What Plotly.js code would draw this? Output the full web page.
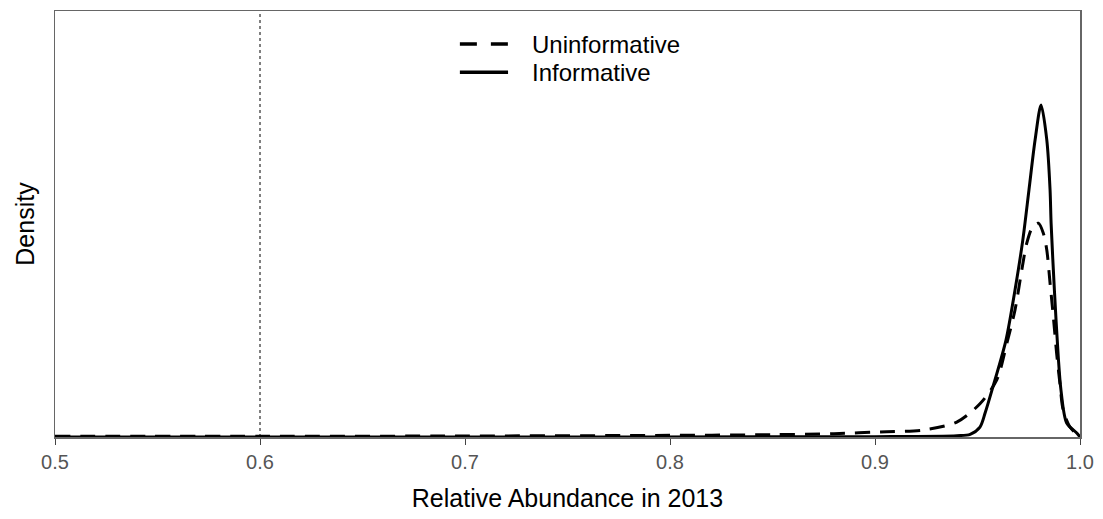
<!DOCTYPE html>
<html>
<head>
<meta charset="utf-8">
<script src="https://cdn.plot.ly/plotly-3.0.1.min.js"></script>
<style>html,body{margin:0;padding:0;background:#fff}#chart{width:1103px;height:519px}</style>
</head>
<body>
<div id="chart"></div>
<script>
// Uninformative prior posterior density (dashed)
var uninfX = [0.5, 0.6, 0.7, 0.8, 0.85, 0.88, 0.9057, 0.9236, 0.9399, 0.9512, 0.9594, 0.9643, 0.9683, 0.9716, 0.974, 0.9769, 0.9797, 0.9821, 0.9838, 0.9854, 0.987, 0.9886, 0.9902, 0.9918, 0.9951, 1.0];
var uninfY = [0.002, 0.002, 0.003, 0.005, 0.007, 0.010, 0.016, 0.021, 0.045, 0.100, 0.172, 0.282, 0.383, 0.503, 0.583, 0.633, 0.644, 0.614, 0.563, 0.463, 0.362, 0.252, 0.162, 0.081, 0.030, 0.0];
// Informative prior posterior density (solid)
var infX = [0.5, 0.7, 0.9, 0.94, 0.9464, 0.9512, 0.9537, 0.9571, 0.9639, 0.9683, 0.9721, 0.9751, 0.9781, 0.981, 0.9838, 0.9854, 0.9859, 0.9875, 0.9894, 0.9907, 0.9935, 0.9984, 1.0];
var infY = [0.0, 0.0, 0.001, 0.004, 0.008, 0.030, 0.072, 0.142, 0.292, 0.443, 0.593, 0.744, 0.895, 1.0, 0.895, 0.744, 0.644, 0.443, 0.241, 0.142, 0.042, 0.012, 0.0];
var seriesNames = ["Uninformative", "Informative"];
var referenceX = [0.6];
var xTickVals = [0.5, 0.6, 0.7, 0.8, 0.9, 1.0];
var xTickText = ["0.5", "0.6", "0.7", "0.8", "0.9", "1.0"];

var traces = [
  {x: uninfX, y: uninfY, type: "scatter", mode: "lines", name: seriesNames[0],
   line: {color: "#000", width: 3, dash: "15px,10px", shape: "spline", smoothing: 0.8}, showlegend: false},
  {x: infX, y: infY, type: "scatter", mode: "lines", name: seriesNames[1],
   line: {color: "#000", width: 3, shape: "spline", smoothing: 0.8}, showlegend: false}
];

var shapes = referenceX.map(function (v) {
  return {type: "line", xref: "x", yref: "paper", x0: v, x1: v, y0: 0, y1: 1,
          line: {color: "#000", width: 1, dash: "dot"}, layer: "below"};
});
// manual legend samples
shapes.push({type: "line", xref: "paper", yref: "paper", x0: 0.395, x1: 0.442, y0: 0.9225, y1: 0.9225,
             line: {color: "#000", width: 3.5, dash: "17px,14px"}});
shapes.push({type: "line", xref: "paper", yref: "paper", x0: 0.395, x1: 0.442, y0: 0.856, y1: 0.856,
             line: {color: "#000", width: 3.5}});

var annotations = [
  {xref: "paper", yref: "paper", x: 0.4634, y: 0.9225, xanchor: "left", yanchor: "middle", showarrow: false,
   text: seriesNames[0], font: {family: "Liberation Sans, Arial, sans-serif", size: 24, color: "#000"}},
  {xref: "paper", yref: "paper", x: 0.4634, y: 0.856, xanchor: "left", yanchor: "middle", showarrow: false,
   text: seriesNames[1], font: {family: "Liberation Sans, Arial, sans-serif", size: 24, color: "#000"}}
];

var layout = {
  width: 1103, height: 519,
  margin: {l: 55, r: 23, t: 11, b: 82},
  paper_bgcolor: "#fff", plot_bgcolor: "#fff",
  font: {family: "Liberation Sans, Arial, sans-serif", color: "#000"},
  showlegend: false,
  xaxis: {
    range: [0.5, 1.0], tickvals: xTickVals, ticktext: xTickText,
    ticks: "outside", ticklen: 6, tickwidth: 1, tickcolor: "#444",
    showline: true, linecolor: "#666", linewidth: 1.5, mirror: true,
    showgrid: false, zeroline: false,
    tickfont: {size: 20, color: "#555"},
    title: {text: "Relative Abundance in 2013", font: {size: 25, color: "#000"}, standoff: 18}
  },
  yaxis: {
    range: [0, 1.283], showticklabels: false, ticks: "",
    showline: true, linecolor: "#666", linewidth: 1.5, mirror: true,
    showgrid: false, zeroline: false,
    title: {text: "Density", font: {size: 25, color: "#000"}, standoff: 12}
  },
  shapes: shapes,
  annotations: annotations
};

Plotly.newPlot("chart", traces, layout, {displayModeBar: false, staticPlot: true});
</script>
</body>
</html>
